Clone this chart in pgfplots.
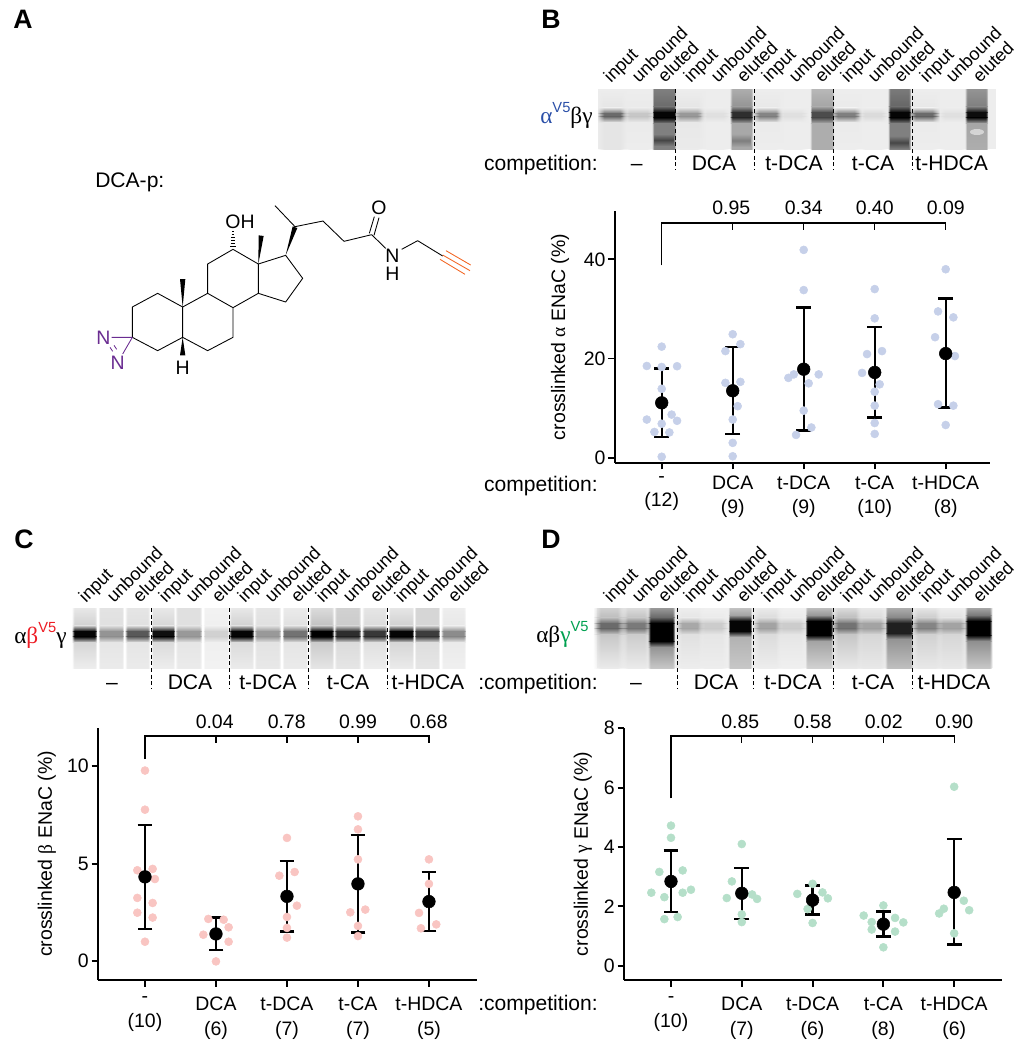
\documentclass[border=0pt]{standalone}
\usepackage{fontspec}
\usepackage{pgfplots}
\pgfplotsset{compat=1.18}
\usetikzlibrary{fadings}
\setmainfont{Liberation Sans}
\newfontfamily\grk{Liberation Serif}
\newcommand\fs{\fontsize{14.6}{18}\selectfont}
\newcommand\fsb{\fontsize{15.8}{18}\selectfont}
\newcommand\fst{\fontsize{13.5}{16}\selectfont}
\newcommand\hd{\fontsize{20}{22}\selectfont\bfseries}

\definecolor{ptB}{HTML}{C6D0E9}
\definecolor{ptC}{HTML}{F9C5C2}
\definecolor{ptD}{HTML}{B5DFC9}
\definecolor{dkblue}{HTML}{2B50A8}
\definecolor{dkred}{HTML}{ED1C24}
\definecolor{dkgreen}{HTML}{00A050}
\definecolor{chempurple}{HTML}{6A2C91}
\definecolor{chemorange}{HTML}{F26522}

\pgfdeclarehorizontalshading{lanefadesh}{100bp}{color(0bp)=(pgftransparent!100); color(25bp)=(pgftransparent!100); color(29bp)=(pgftransparent!0); color(71bp)=(pgftransparent!0); color(75bp)=(pgftransparent!100); color(100bp)=(pgftransparent!100)}
\pgfdeclarefading{lanefade}{\pgfuseshading{lanefadesh}}
\pgfdeclarehorizontalshading{softfadesh}{100bp}{color(0bp)=(pgftransparent!100); color(25bp)=(pgftransparent!100); color(37bp)=(pgftransparent!0); color(63bp)=(pgftransparent!0); color(75bp)=(pgftransparent!100); color(100bp)=(pgftransparent!100)}
\pgfdeclarefading{softfade}{\pgfuseshading{softfadesh}}
\tikzfading[name=midv,top color=transparent!100,bottom color=transparent!100,middle color=transparent!0]

% one gel lane: x0 x1 | grey at top, above band, band, below band, bottom
\newcommand\bh{2}
\newcommand\lf{lanefade}
\newcommand\rp{6}
\newcommand\lane[7]{%
  \shade[top color=black!#3,bottom color=black!#4,path fading=\lf] (#1,\ytop) rectangle (#2,{\yc-\bh-\rp});
  \shade[top color=black!#4,bottom color=black!#5,path fading=\lf] (#1,{\yc-\bh-\rp}) rectangle (#2,{\yc-\bh});
  \shade[top color=black!#5,bottom color=black!#5,path fading=\lf] (#1,{\yc-\bh}) rectangle (#2,{\yc+\bh});
  \shade[top color=black!#5,bottom color=black!#6,path fading=\lf] (#1,{\yc+\bh}) rectangle (#2,{\yc+\bh+\rp});
  \shade[top color=black!#6,bottom color=black!#7,path fading=\lf] (#1,{\yc+\bh+\rp}) rectangle (#2,\ybot);
}
\newcommand\toplabels[3]{%
  \foreach \xx/\tt in {#1/input,#2/unbound,#3/eluted}
    \node[rotate=45,anchor=base west,inner sep=0pt,font=\fst] at (\xx+6,84+\yoff) {\tt};
}

\pgfplotsset{panel/.style={
  scale only axis, anchor=south west, clip=false,
  axis lines*=left, axis line style={-,line width=1.4pt},
  tick align=outside, major tick length=5pt,
  tick style={black,line width=1.4pt},
  xtick={0,1,2,3,4},
  ytick distance=20,
  font=\fs, tick label style={font=\fs},
  /pgf/number format/assume math mode=true,
  xticklabel style={align=center,yshift=-1.5pt},
  yticklabel style={inner sep=2pt},
}}
\pgfplotsset{
  lowrow/.style={xticklabel style={font=\fontsize{14.6}{18.75}\selectfont,yshift=-2.3pt}},
  means/.style={only marks,mark=*,mark size=4.75pt,black,
    error bars/.cd,y dir=both,y explicit,
    error bar style={line width=1.8pt,black},
    error mark options={rotate=90,line width=1.8pt,mark size=5.5pt,black}},
  pts/.style={only marks,mark=*,mark size=3pt,color=#1,mark options={solid}},
  brk/.style={black,line width=1pt,mark=none,forget plot},
}

\begin{document}
\begin{tikzpicture}
\useasboundingbox (0,0) rectangle (769.5pt,-787.5pt);

% panel B plot
\begin{axis}[panel,at={(461.25pt,-347.03pt)},width=281.25pt,height=189pt,
  xmin=-0.658,xmax=4.624,ymin=-1,ymax=49.8,
  xticklabels={{-\\(12)},{DCA\\(9)},{t-DCA\\(9)},{t-CA\\(10)},{t-HDCA\\(8)}}]
\addplot[pts=ptB] table[row sep=\\]{x y\\
0 22.4\\ -0.21 18.5\\ 0 18.3\\ 0.216 18.45\\ 0 13.9\\ 0.14 8.7\\ -0.21 7.7\\ 0.216 7.45\\ 0 6.85\\ -0.103 5.2\\ 0.108 5.1\\ 0 0.2\\
1 24.9\\ 1.108 22.9\\ 0.897 21.5\\ 0.897 15.1\\ 1.108 15.3\\ 1.07 10.4\\ 1 7.7\\ 1 3.0\\ 1 0.3\\
2 41.9\\ 2 33.8\\ 1.86 16.8\\ 1.784 16.1\\ 2.211 16.8\\ 2.07 15.0\\ 2 9.5\\ 2.108 6.1\\ 1.892 4.6\\
3 34\\ 3 28.1\\ 3.103 21.5\\ 2.892 20.9\\ 2.822 17.1\\ 3.07 14.8\\ 3 13.3\\ 3 10.5\\ 3 7\\ 3 4.8\\
4 38\\ 3.892 29.5\\ 4.108 28.3\\ 3.85 24.3\\ 4.13 20.5\\ 3.892 10.8\\ 4.108 10.5\\ 4 6.6\\
};
\addplot[means] table[x=x,y=y,y error plus=ep,y error minus=em,row sep=\\]{x y ep em\\
0 11.07 6.93 6.91\\ 1 13.5 8.8 8.7\\ 2 17.85 12.45 12.35\\ 3 17.2 9.2 9.1\\ 4 21.0 11.1 10.9\\
};
\addplot[brk] coordinates {(0,38.8)(0,47.3)(4,47.3)(4,46)};
\addplot[brk] coordinates {(1,47.3)(1,46)};
\addplot[brk] coordinates {(2,47.3)(2,46)};
\addplot[brk] coordinates {(3,47.3)(3,46)};
\end{axis}

% panel C plot
\begin{axis}[panel,lowrow,at={(73.7pt,-735pt)},width=283.8pt,height=188.8pt,ytick distance=5,
  xmin=-0.658,xmax=4.672,ymin=-0.976,ymax=11.95,
  xticklabels={{-\\(10)},{DCA\\(6)},{t-DCA\\(7)},{t-CA\\(7)},{t-HDCA\\(5)}}]
\addplot[pts=ptC] table[row sep=\\]{x y\\
0 9.78\\ 0 7.77\\ -0.108 4.66\\ 0.108 4.73\\ 0.14 4.21\\ -0.108 3.24\\ 0.108 2.98\\ -0.108 2.48\\ 0.108 2.23\\ 0 0.99\\
0.892 2.16\\ 1.108 2.12\\ 1.178 1.73\\ 0.822 1.35\\ 1.178 0.99\\ 1 -0.02\\
2 6.32\\ 2.108 4.57\\ 1.892 4.38\\ 2.14 2.84\\ 2 2.26\\ 2 1.70\\ 2 1.20\\
3 7.43\\ 3 6.76\\ 3 5.22\\ 3.103 2.64\\ 2.892 2.5\\ 3 1.8\\ 3 1.28\\
4 5.22\\ 4 3.96\\ 3.86 2.47\\ 4.103 1.88\\ 3.887 1.68\\
};
\addplot[means] table[x=x,y=y,y error plus=ep,y error minus=em,row sep=\\]{x y ep em\\
0 4.32 2.67 2.68\\ 1 1.39 0.85 0.82\\ 2 3.32 1.83 1.81\\ 3 3.96 2.5 2.49\\ 4 3.05 1.52 1.51\\
};
\addplot[brk] coordinates {(0,10.36)(0,11.56)(4,11.56)(4,11.18)};
\addplot[brk] coordinates {(1,11.56)(1,11.18)};
\addplot[brk] coordinates {(2,11.56)(2,11.18)};
\addplot[brk] coordinates {(3,11.56)(3,11.18)};
\end{axis}

% panel D plot
\begin{axis}[panel,lowrow,at={(468.2pt,-735pt)},width=283pt,height=188.8pt,ytick distance=2,
  xmin=-0.66,xmax=4.67,ymin=-0.482,ymax=8,
  xticklabels={{-\\(10)},{DCA\\(7)},{t-DCA\\(6)},{t-CA\\(8)},{t-HDCA\\(6)}}]
\addplot[pts=ptD] table[row sep=\\]{x y\\
0 4.72\\ 0 4.31\\ -0.165 3.16\\ 0.165 3.21\\ 0.282 2.56\\ -0.278 2.46\\ 0.165 2.46\\ -0.094 2.31\\ 0.094 1.64\\ -0.094 1.57\\
1 4.10\\ 0.86 2.84\\ 1.146 2.40\\ 0.788 2.28\\ 1.216 2.25\\ 1 1.73\\ 1 1.47\\
2 2.76\\ 2.14 2.47\\ 1.784 2.42\\ 2.216 2.27\\ 1.93 1.91\\ 2 1.44\\
3 2.03\\ 2.722 1.69\\ 3.165 1.61\\ 2.835 1.47\\ 3.282 1.46\\ 2.835 1.22\\ 3.165 1.15\\ 3 0.62\\
4 6.03\\ 4.136 2.19\\ 3.854 1.92\\ 4.212 1.87\\ 3.788 1.76\\ 4 1.09\\
};
\addplot[means] table[x=x,y=y,y error plus=ep,y error minus=em,row sep=\\]{x y ep em\\
0 2.84 1.04 1.03\\ 1 2.44 0.85 0.86\\ 2 2.21 0.49 0.48\\ 3 1.40 0.43 0.41\\ 4 2.47 1.8 1.76\\
};
\addplot[brk] coordinates {(0,5.64)(0,7.74)(4,7.74)(4,7.49)};
\addplot[brk] coordinates {(1,7.74)(1,7.49)};
\addplot[brk] coordinates {(2,7.74)(2,7.49)};
\addplot[brk] coordinates {(3,7.74)(3,7.49)};
\end{axis}

% everything else in reference pixels
\begin{scope}[x=0.75pt,y=-0.75pt,font=\fs]
\node[font=\hd,anchor=base west,inner sep=0pt] at (13,28) {A};
\node[font=\hd,anchor=base west,inner sep=0pt] at (541,28) {B};
\node[font=\hd,anchor=base west,inner sep=0pt] at (14,548) {C};
\node[font=\hd,anchor=base west,inner sep=0pt] at (541,548) {D};

% blot B
\fill[black!7] (598,89) rectangle (996,149);
\def\ytop{89}\def\ybot{149}\def\yc{115}
\renewcommand\bh{1.5}
\renewcommand\lf{softfade}
\lane{597}{627}{7}{10}{58}{10}{10}
\lane{622}{655}{7}{8}{22}{8}{7}
\lane{672}{705}{7}{10}{40}{9}{8}
\lane{700}{730}{7}{7}{12}{7}{7}
\lane{752}{783}{7}{9}{48}{8}{7}
\lane{777}{808}{7}{7}{12}{7}{7}
\lane{830}{862}{7}{8}{50}{8}{7}
\lane{858}{888}{7}{7}{14}{7}{7}
\lane{908}{940}{7}{9}{58}{8}{7}
\lane{938}{968}{7}{7}{12}{7}{7}
\renewcommand\lf{lanefade}
\renewcommand\bh{2.5}
\lane{652}{676}{50}{58}{98}{50}{50}
\lane{730}{753}{32}{42}{82}{34}{34}
\lane{810}{834}{28}{35}{70}{32}{32}
\lane{888}{911}{52}{60}{98}{50}{50}
\lane{965}{988}{42}{50}{95}{35}{32}
\fill[black,opacity=.45,path fading=midv] (654,134) rectangle (674,146);
\fill[black,opacity=.25,path fading=midv] (732,134) rectangle (751,147);
\fill[black,opacity=.45,path fading=midv] (890,136) rectangle (909,149);
\fill[black!12,opacity=.8] (977,132) ellipse (7 and 3);

% blot C
\def\ytop{608}\def\ybot{668}\def\yc{634}
\renewcommand\lf{lanefade}
\renewcommand\bh{2.5}
\lane{72}{97}{9}{18}{98}{16}{7}
\lane{98}{124}{11}{12}{42}{10}{8}
\lane{125}{150}{10}{12}{65}{10}{8}
\lane{151}{175}{9}{16}{94}{14}{7}
\lane{175}{202}{12}{12}{40}{10}{8}
\lane{203}{229}{5}{6}{18}{6}{5}
\lane{229}{254}{9}{18}{98}{14}{8}
\lane{254}{281}{10}{12}{40}{11}{9}
\lane{282}{308}{8}{12}{55}{10}{8}
\lane{309}{334}{14}{24}{100}{20}{10}
\lane{334}{361}{18}{20}{82}{14}{10}
\lane{362}{387}{10}{14}{78}{12}{7}
\lane{388}{414}{10}{18}{98}{16}{8}
\lane{414}{440}{16}{16}{76}{13}{10}
\lane{441}{466}{7}{9}{45}{8}{6}

% blot D
\fill[black!6] (597,608) rectangle (993,668);
\def\yc{626}
\renewcommand\lf{softfade}
\lane{593}{625}{18}{26}{58}{22}{8}
\lane{620}{652}{14}{24}{52}{20}{8}
\lane{675}{705}{7}{10}{34}{12}{7}
\lane{697}{729}{6}{8}{20}{10}{7}
\lane{752}{783}{8}{14}{36}{14}{7}
\lane{775}{808}{6}{8}{20}{10}{6}
\lane{830}{864}{14}{26}{55}{22}{9}
\lane{855}{888}{9}{14}{36}{16}{9}
\lane{910}{943}{10}{20}{48}{18}{9}
\lane{935}{968}{7}{12}{36}{16}{9}
\renewcommand\lf{lanefade}
\renewcommand\bh{9}\def\yc{632}
\lane{648}{675}{40}{58}{100}{42}{22}
\renewcommand\bh{5}\def\yc{626}
\lane{728}{752}{24}{36}{98}{30}{22}
\renewcommand\bh{7}\def\yc{628}
\lane{805}{833}{26}{40}{100}{36}{18}
\renewcommand\bh{5}\def\yc{628}
\lane{885}{913}{32}{46}{88}{42}{25}
\renewcommand\bh{7}\def\yc{628}
\lane{965}{992}{35}{52}{100}{44}{22}
\renewcommand\bh{2}

% lane labels and separators
\foreach \a/\b/\c in {605/633/659,685/712/738,763/790/816,842/869/895,921/947/974}{
  \def\yoff{0}\toplabels{\a}{\b}{\c}
  \def\yoff{520}\toplabels{\a}{\b}{\c}
}
\foreach \a/\b/\c in {80/108/134,160/187/213,239/266/292,317/344/371,396/423/449}{
  \def\yoff{520}\toplabels{\a}{\b}{\c}
}
\foreach \x in {675.7,754.3,833.7,912.3}
  \draw[line width=0.75pt,dash pattern=on 3pt off 2pt] (\x,89) -- (\x,170);
\foreach \x in {151,229.3,308.3,387.7,677.7,753.3,833.3,912.3}
  \draw[line width=0.75pt,dash pattern=on 3pt off 2pt] (\x,608) -- (\x,689);

% row captions
\node[anchor=base east,inner sep=0pt,font=\fsb] at (598,170) {competition:};
\node[anchor=base east,inner sep=0pt,font=\fsb] at (598,491) {competition:};
\node[anchor=base east,inner sep=0pt,font=\fsb] at (598,689) {:competition:};
\node[anchor=base east,inner sep=0pt,font=\fsb] at (598,1010) {:competition:};
\foreach \x/\t in {636.7/--,714/DCA,794/t-DCA,873/t-CA,951.7/t-HDCA}
  \node[anchor=base,inner sep=0pt,font=\fsb] at (\x,170) {\t};
\foreach \x/\t in {112/--,190/DCA,268/t-DCA,348/t-CA,428/t-HDCA,636/--,716/DCA,793/t-DCA,873/t-CA,954/t-HDCA}
  \node[anchor=base,inner sep=0pt,font=\fsb] at (\x,689) {\t};

% subunit labels
\node[anchor=base west,inner sep=0pt] at (540,123) {\fontsize{17.5}{18}\selectfont\color{dkblue}{\grk α}\raisebox{.45em}{\fontsize{11}{12}\selectfont V5}\color{black}{\grk βγ}};
\node[anchor=base west,inner sep=0pt] at (14,643) {\fontsize{17.5}{18}\selectfont{\grk α}\color{dkred}{\grk β}\raisebox{.45em}{\fontsize{11}{12}\selectfont V5}\color{black}{\grk γ}};
\node[anchor=base west,inner sep=0pt] at (536,642) {\fontsize{17.5}{18}\selectfont{\grk αβ}\color{dkgreen}{\grk γ}\raisebox{.45em}{\fontsize{11}{12}\selectfont V5}};

% p values
\foreach \x/\t in {731.3/0.95,803.7/0.34,874.7/0.40,945.7/0.09}
  \node[anchor=base,inner sep=0pt] at (\x,214) {\t};
\foreach \x/\t in {214.7/0.04,286.7/0.78,358/0.99,428.7/0.68}
  \node[anchor=base,inner sep=0pt] at (\x,728) {\t};
\foreach \x/\t in {740.3/0.85,812.7/0.58,883.7/0.02,954.3/0.90}
  \node[anchor=base,inner sep=0pt] at (\x,728) {\t};

% y titles
\node[rotate=90,inner sep=0pt] at (560,337) {crosslinked {\grk α} ENaC (\%)};
\node[rotate=90,inner sep=0pt] at (47,854) {crosslinked {\grk β} ENaC (\%)};
\node[rotate=90,inner sep=0pt] at (583,854) {crosslinked {\grk γ} ENaC (\%)};

\node[anchor=base west,inner sep=0pt,font=\fsb] at (95,187) {DCA-p:};
\end{scope}

% structure, in 3x zoomed pixels
\begin{scope}[x=0.25pt,y=-0.25pt,line width=0.65pt,line join=round,font=\fs]
\draw (548,921)--(473,880)--(397,921)--(397,1012);
\draw (397,1012)--(473,1052)--(548,1012)--(623,1052)--(699,1012)--(699,923)--(623,880)--(548,921)--(548,1012);
\draw (623,880)--(623,792)--(699,748)--(775,792)--(775,880)--(699,923);
\draw (775,792)--(857,766)--(908,835)--(857,906)--(775,880);
\fill (548,921)--(540,837)--(556,837)--cycle;
\fill (775,792)--(776,706)--(791,708)--cycle;
\fill (548,1012)--(540,1066)--(556,1066)--cycle;
\fill (857,766)--(878,679)--(892,684)--cycle;
\foreach \y/\w in {740/8,731/7,722/6,713/5,704/4,695/3}
  \draw[line width=0.5pt] (699-\w,\y)--(699+\w,\y);
\draw (885,680)--(825,617);
\draw (885,680)--(969,663)--(1032,724)--(1115,704)--(1157,745);
\draw (1108,700)--(1123,650);
\draw (1122,706)--(1137,653);
\draw (1205,748)--(1253,722)--(1328,768);
\draw[chemorange] (1328,765)--(1410,812) (1338,752)--(1412,795) (1320,778)--(1395,823);
\draw[chempurple] (397,1012)--(335,1012) (397,1012)--(368,1062);
\draw[chempurple] (330,1042)--(338,1054) (342,1036)--(350,1048);
\node[inner sep=0pt] at (720,665) {OH};
\node[inner sep=0pt] at (1137,622) {O};
\node[inner sep=0pt] at (1177,768) {N};
\node[inner sep=0pt] at (1177,820) {H};
\node[inner sep=0pt] at (548,1102) {H};
\node[inner sep=0pt,text=chempurple] at (310,1013) {N};
\node[inner sep=0pt,text=chempurple] at (353,1088) {N};
\end{scope}
\end{tikzpicture}
\end{document}
